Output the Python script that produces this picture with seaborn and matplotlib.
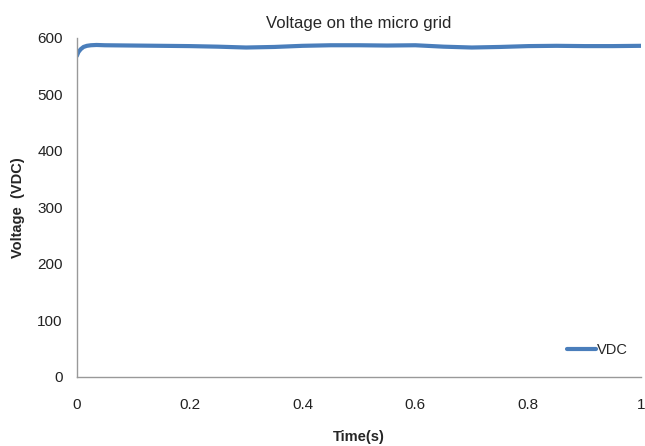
import matplotlib
matplotlib.use("Agg")
import matplotlib.pyplot as plt
import seaborn as sns
import pandas as pd
import numpy as np

time_s = [0.0, 0.003, 0.007, 0.012, 0.018, 0.025, 0.035, 0.05, 0.1, 0.15, 0.2, 0.25, 0.3, 0.35, 0.4,
          0.45, 0.5, 0.55, 0.6, 0.65, 0.7, 0.75, 0.8, 0.85, 0.9, 0.95, 1.0]
vdc = [568, 575, 580, 584, 586, 587, 587.5, 587, 586.5, 586, 585.5, 584.5, 583, 584, 586,
       587, 587, 586.5, 587, 584.5, 583, 584, 585.5, 586, 585.5, 585.5, 586]

df = pd.DataFrame({"Time(s)": time_s, "VDC": vdc})

sns.set_style("white")
plt.rcParams['font.family'] = ['Liberation Sans', 'DejaVu Sans']

fig, ax = plt.subplots(figsize=(6.45, 4.46), dpi=100)
fig.subplots_adjust(left=0.119, right=0.994, top=0.915, bottom=0.155)

sns.lineplot(data=df, x="Time(s)", y="VDC", ax=ax, color="#4a7ebb", linewidth=3.0, label="VDC")

ax.set_xlim(0, 1)
ax.set_ylim(0, 600)
ax.set_xticks([0, 0.2, 0.4, 0.6, 0.8, 1])
ax.set_xticklabels(["0", "0.2", "0.4", "0.6", "0.8", "1"])
ax.set_yticks([0, 100, 200, 300, 400, 500, 600])
ax.tick_params(axis='both', length=0, labelsize=11, colors="#222222")
ax.tick_params(axis='x', pad=15)
ax.tick_params(axis='y', pad=10)

for s in ["top", "right"]:
    ax.spines[s].set_visible(False)
for s in ["left", "bottom"]:
    ax.spines[s].set_color("#999999")
    ax.spines[s].set_linewidth(1.0)

ax.set_title("Voltage on the micro grid", fontsize=12, pad=7)
ax.set_xlabel("Time(s)", fontsize=10.5, fontweight="bold", labelpad=13)
ax.set_ylabel("Voltage  (VDC)", fontsize=10.5, fontweight="bold", labelpad=9)

leg = ax.legend(loc="lower right", bbox_to_anchor=(1.0, 0.02), frameon=False, fontsize=10.5,
                handlelength=2.0, handletextpad=0.1)

fig.savefig("out.png", dpi=100)
